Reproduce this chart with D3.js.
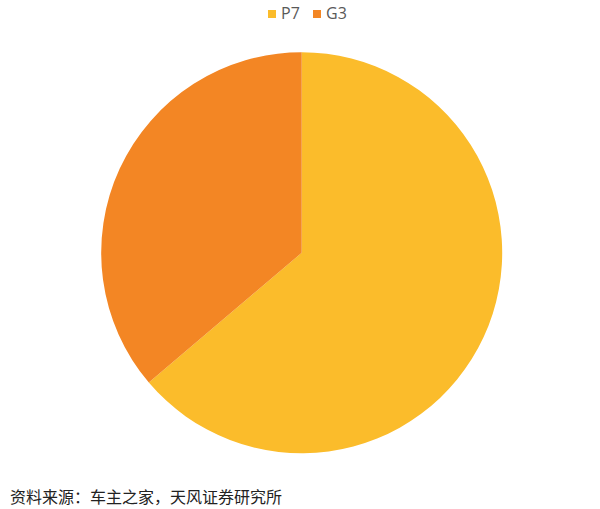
<!DOCTYPE html>
<html>
<head>
<meta charset="utf-8">
<script src="https://cdn.jsdelivr.net/npm/d3@7"></script>
<style>
  html, body { margin: 0; padding: 0; background: #fff; }
  svg { display: block; }
</style>
</head>
<body>
<div id="chart"></div>
<script>
// share by model
const models = ['P7', 'G3'];
const shares = [63.8, 36.2];
const colors = ['#FBBC2B', '#F38624'];
const sourceNote = '资料来源：车主之家，天风证券研究所';

const width = 600, height = 509;
const cx = 301.7, cy = 252.8, radius = 200.5;

const svg = d3.select('#chart').append('svg')
  .attr('width', width)
  .attr('height', height);

const color = d3.scaleOrdinal().domain(models).range(colors);

const pie = d3.pie().sort(null).value((d, i) => shares[i]);
const arc = d3.arc().innerRadius(0).outerRadius(radius);

svg.append('g')
  .attr('transform', `translate(${cx},${cy})`)
  .selectAll('path')
  .data(pie(models))
  .join('path')
  .attr('d', arc)
  .attr('fill', d => color(d.data));

// legend
const legendX = [268, 313];
const legend = svg.append('g').attr('font-family', "'Open Sans', 'Noto Sans', sans-serif");
models.forEach((m, i) => {
  legend.append('rect')
    .attr('x', legendX[i])
    .attr('y', 10)
    .attr('width', 8)
    .attr('height', 8)
    .attr('fill', color(m));
  legend.append('text')
    .attr('x', legendX[i] + 13)
    .attr('y', 19)
    .attr('font-size', '16px')
    .attr('fill', '#595959')
    .text(m);
});

// source note
svg.append('text')
  .attr('x', 10)
  .attr('y', 503)
  .attr('font-family', "'Noto Sans CJK SC', sans-serif")
  .attr('font-size', '16px')
  .attr('fill', '#222')
  .text(sourceNote);
</script>
</body>
</html>
